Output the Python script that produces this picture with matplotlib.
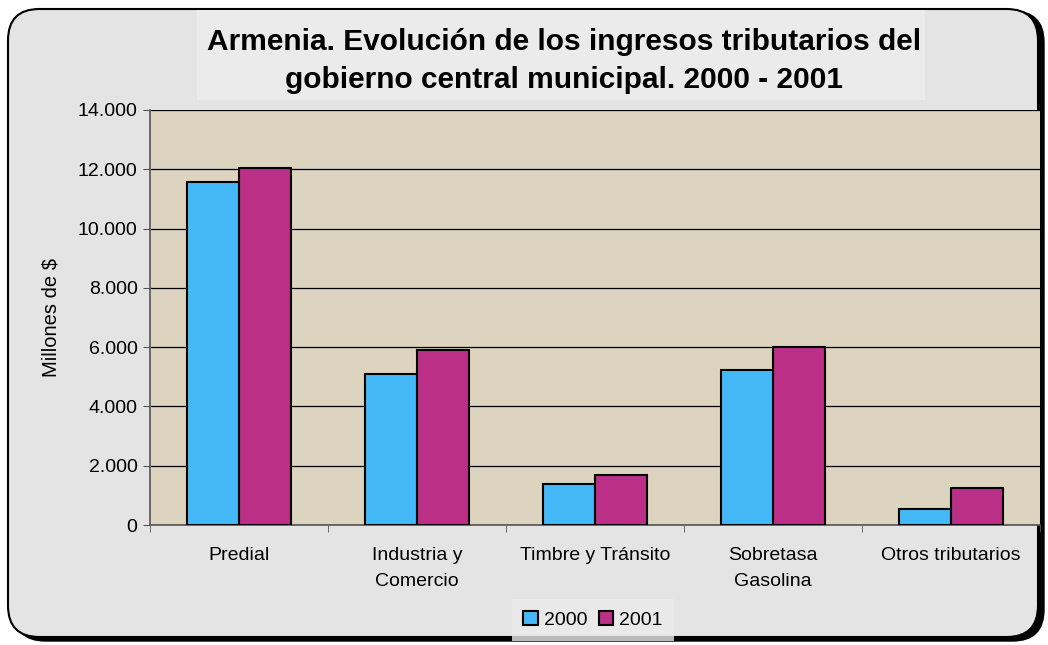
import matplotlib
matplotlib.use("Agg")
import matplotlib.pyplot as plt
from matplotlib.patches import FancyBboxPatch, Rectangle
import numpy as np

categories = ["Predial", "Industria y\nComercio", "Timbre y Tránsito", "Sobretasa\nGasolina", "Otros tributarios"]
series_names = ["2000", "2001"]
values_2000 = [11570, 5100, 1380, 5230, 540]
values_2001 = [12040, 5900, 1700, 6010, 1260]
yticks = [0, 2000, 4000, 6000, 8000, 10000, 12000, 14000]
ytick_labels = ["0", "2.000", "4.000", "6.000", "8.000", "10.000", "12.000", "14.000"]

plt.rcParams['font.family'] = ['Liberation Sans', 'DejaVu Sans']

W, H = 1048, 645
fig = plt.figure(figsize=(W / 100, H / 100), dpi=100)
fig.patch.set_facecolor('white')

# rounded frame with shadow
shadow = FancyBboxPatch((14 / W, 4 / H), 1030 / W, 630 / H,
                        boxstyle="round,pad=0,rounding_size=0.03",
                        transform=fig.transFigure, facecolor='black', edgecolor='black',
                        zorder=-3, mutation_aspect=W / H)
fig.patches.append(shadow)
frame = FancyBboxPatch((8 / W, 8 / H), 1030 / W, 628 / H,
                       boxstyle="round,pad=0,rounding_size=0.03",
                       transform=fig.transFigure, facecolor='#e4e4e4', edgecolor='black',
                       linewidth=1.5, zorder=-2, mutation_aspect=W / H)
fig.patches.append(frame)

# title background box
tb = Rectangle((197 / W, 1 - 100 / H), 728 / W, 90 / H, transform=fig.transFigure,
               facecolor='#ebebeb', edgecolor='none', zorder=-1)
fig.patches.append(tb)

ax = fig.add_axes([150 / W, 1 - 525 / H, 890 / W, 415 / H])
ax.set_facecolor('#ddd4bf')

x = np.arange(len(categories))
bw = 0.29
ax.bar(x - bw / 2, values_2000, bw, color='#45b9f7', edgecolor='black', linewidth=1.5,
       label=series_names[0], zorder=3)
ax.bar(x + bw / 2, values_2001, bw, color='#bb2f86', edgecolor='black', linewidth=1.5,
       label=series_names[1], zorder=3)

ax.set_xlim(-0.5, len(categories) - 0.5)
ax.set_ylim(0, 14000)
ax.set_yticks(yticks)
ax.set_yticklabels(ytick_labels, fontsize=14)
ax.yaxis.grid(True, color='black', linewidth=0.9, zorder=1)
ax.set_axisbelow(True)
ax.set_xticks(x)
ax.set_xticklabels(categories, fontsize=14, linespacing=1.7)
ax.set_xticks(np.arange(len(categories) + 1) - 0.5, minor=True)
ax.tick_params(axis='x', which='major', length=0, pad=16)
ax.tick_params(axis='x', which='minor', length=5, direction='out', color='#555555')
ax.tick_params(axis='y', length=5, direction='out', color='#555555', pad=4)
for s in ['top', 'right']:
    ax.spines[s].set_visible(False)
ax.spines['left'].set_color('#555555')
ax.spines['bottom'].set_color('#555555')
ax.spines['left'].set_linewidth(1.2)
ax.spines['bottom'].set_linewidth(1.2)
ax.set_ylabel("Millones de $", fontsize=14.5, labelpad=12)

fig.text(0.538, 1 - 61 / H,
         "Armenia. Evolución de los ingresos tributarios del\ngobierno central municipal. 2000 - 2001",
         ha='center', va='center', fontsize=21.5, fontweight='bold', linespacing=1.5)

leg = fig.legend(loc='center', bbox_to_anchor=(593 / W, 1 - 620 / H), ncol=2, fontsize=14,
                 frameon=True, handlelength=0.75, handleheight=0.75, handletextpad=0.3,
                 columnspacing=0.6, borderpad=0.3)
leg.get_frame().set_facecolor('#ebebeb')
leg.get_frame().set_edgecolor('none')
leg.get_frame().set_boxstyle('square')

fig.savefig('out.png', dpi=100, facecolor=fig.get_facecolor())
